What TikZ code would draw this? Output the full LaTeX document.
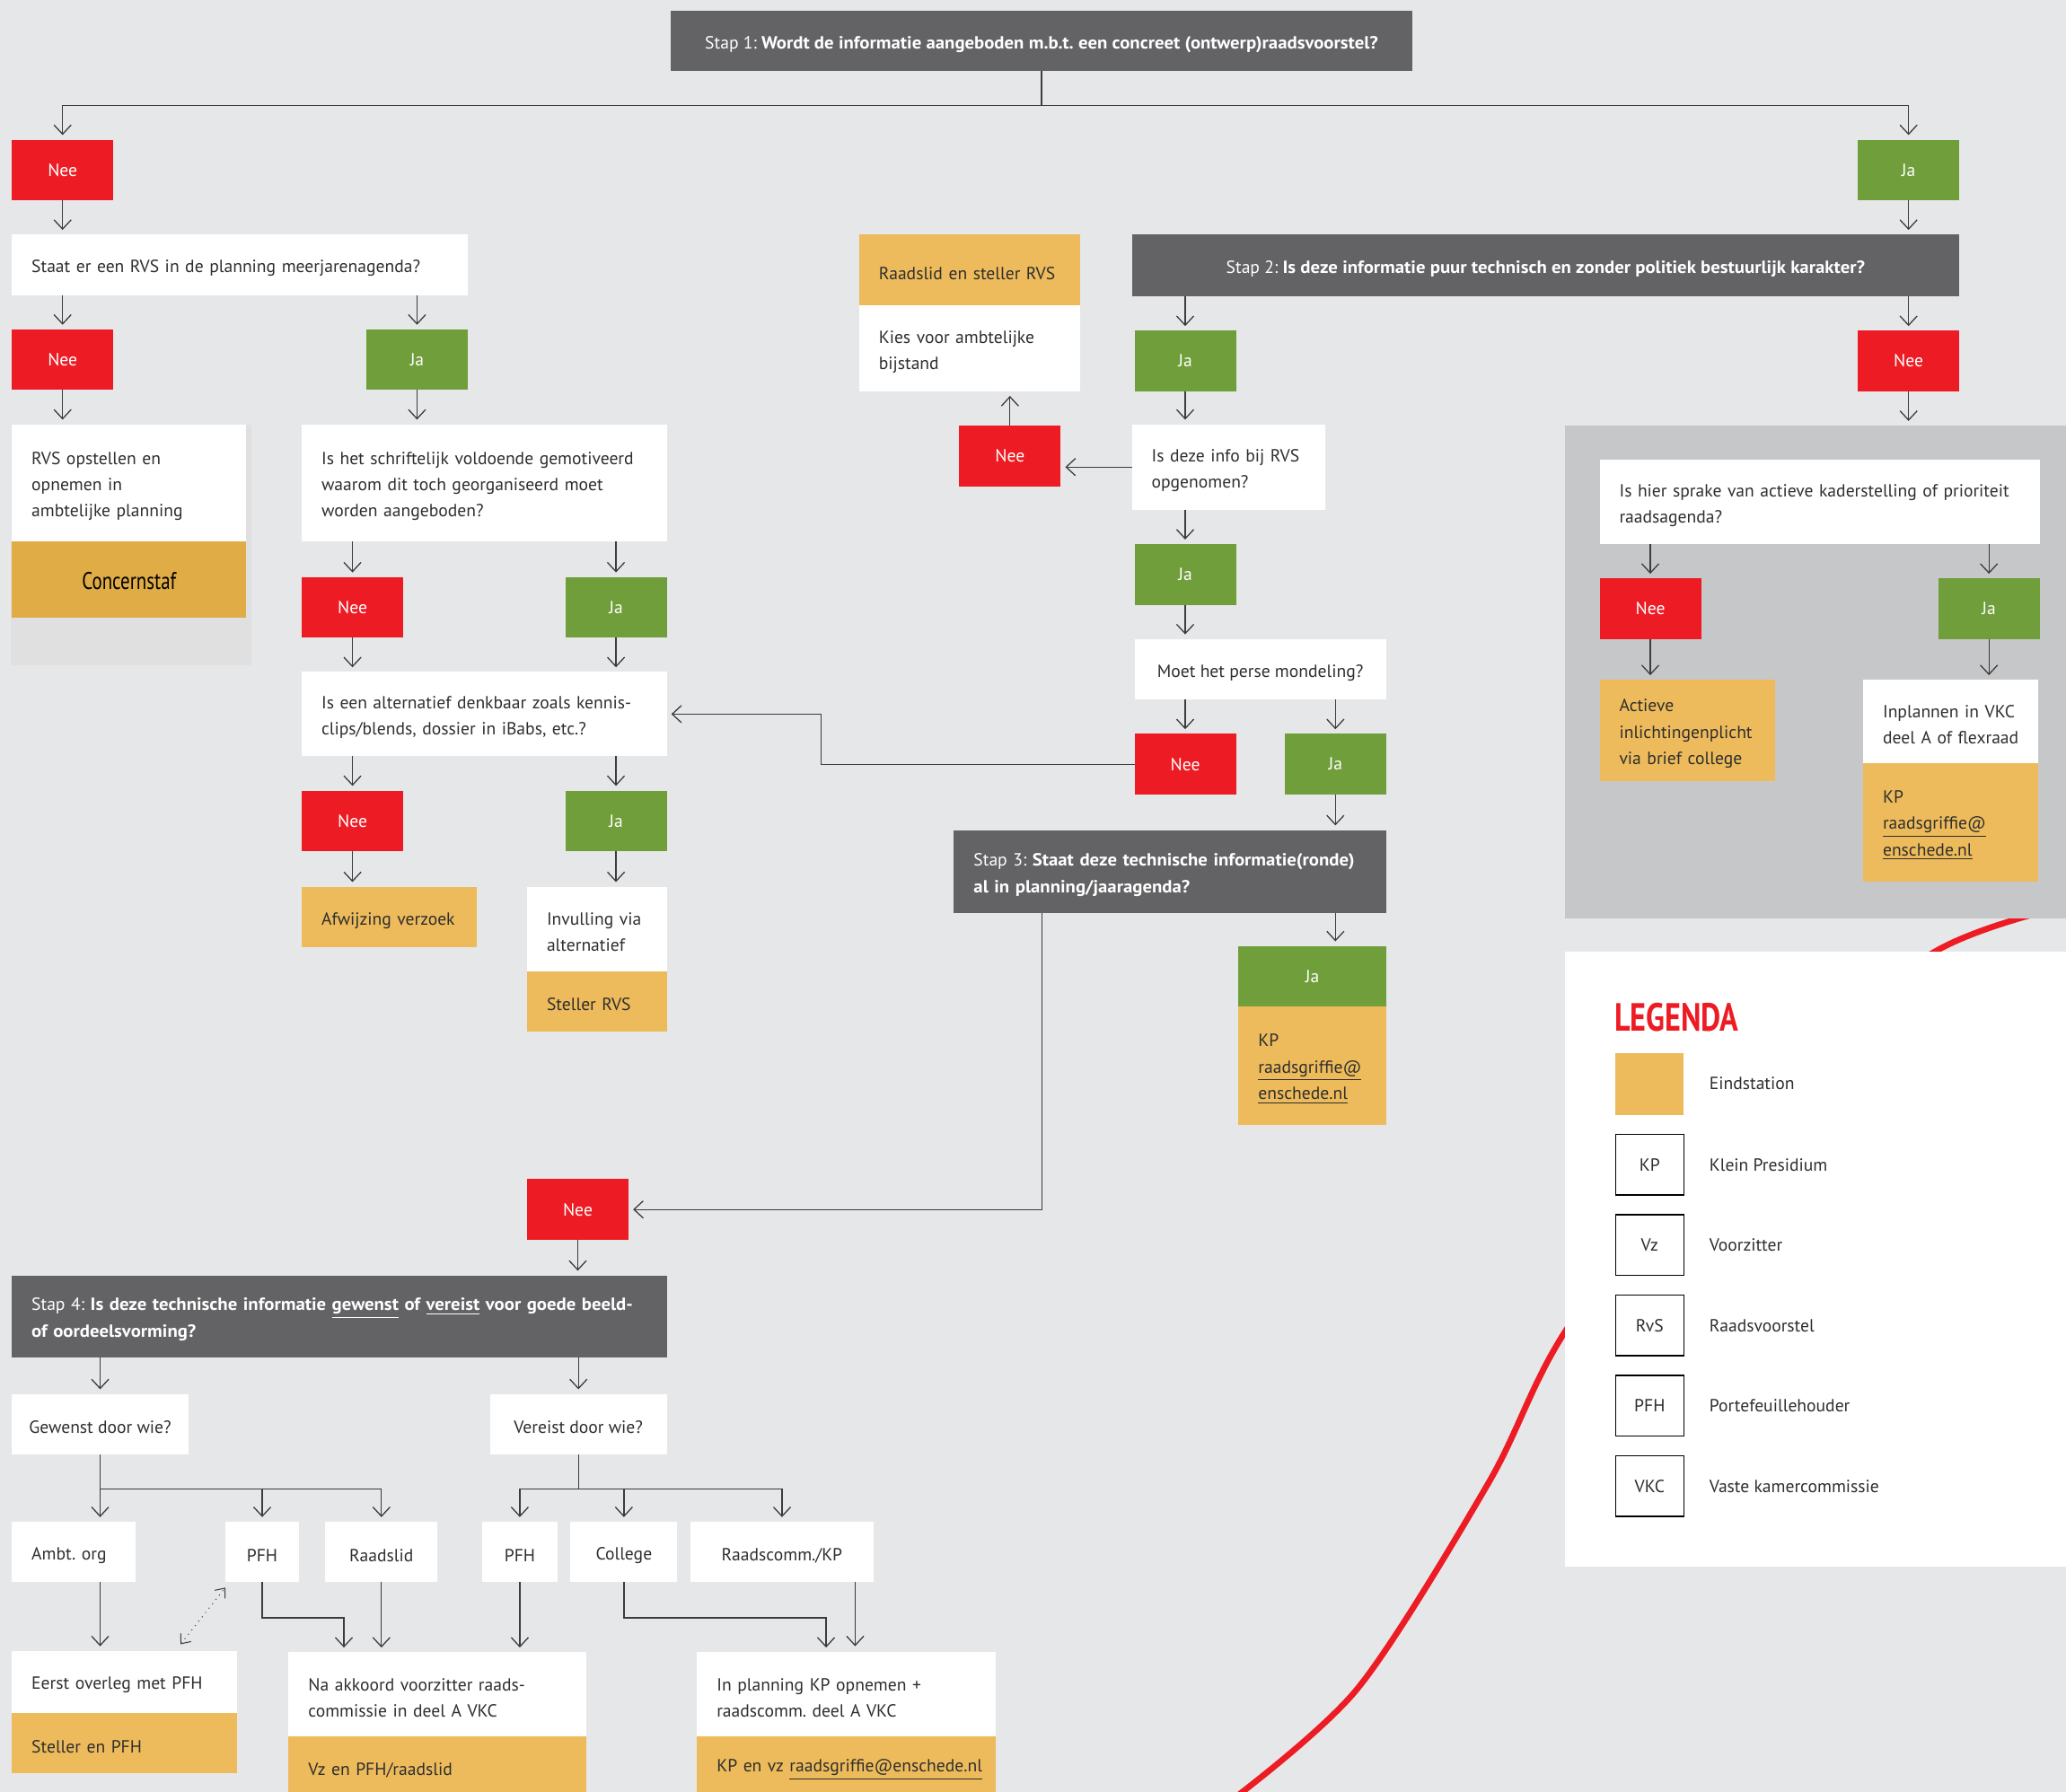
\documentclass[tikz,border=0pt]{standalone}
\usepackage{fontspec}
\setmainfont{PT Sans}[BoldFeatures={FakeStretch=1.06}]
\newfontfamily\legfont{PT Sans}[FakeStretch=0.78]
\usepackage{xcolor}
\usepackage{tikz}
\usetikzlibrary{arrows.meta,positioning}

\definecolor{achtergrond}{HTML}{E6E7E9}
\definecolor{stapgrijs}{HTML}{636365}
\definecolor{rood}{HTML}{ED1C24}
\definecolor{groen}{HTML}{6F9E3B}
\definecolor{eindgeel}{HTML}{EDBB5B}
\definecolor{concern}{HTML}{DFAC45}
\definecolor{paneelgrijs}{HTML}{C6C7C9}
\definecolor{linksgrijs}{HTML}{E0E0E0}
\definecolor{inkt}{HTML}{2E2E2E}
\definecolor{lijnkleur}{HTML}{3C3C3C}

\newcommand\tekst{\fontsize{7.6}{11.4}\selectfont\frenchspacing\hyphenpenalty=10000}
\newcommand\groot{\legfont\fontsize{10.4}{12}\selectfont}

\tikzset{
	blok/.style={inner sep=0pt, outer sep=0pt, anchor=north west, font=\tekst, text=inkt},
	laag/.style={execute at begin node={\rule{0pt}{8.3pt}}},
	nee/.style={blok, fill=rood, text=white, align=center},
	ja/.style={blok, fill=groen, text=white, align=center},
	vraag/.style={blok, laag, fill=white, align=left, inner xsep=0.3cm},
	eind/.style={blok, laag, fill=eindgeel, align=left, inner xsep=0.3cm},
	stap/.style={blok, laag, fill=stapgrijs, text=white, align=left, inner xsep=0.3cm},
	kort/.style={inner xsep=0.15cm, align=center},
	legtekst/.style={anchor=west, inner sep=0pt, font=\tekst, text=inkt},
	maat/.code 2 args={\pgfmathsetlengthmacro\maatb{#1*0.02cm}\pgfmathsetlengthmacro\maath{#2*0.02cm}\tikzset{minimum width=\maatb, minimum height=\maath}},
	tmaat/.code 2 args={\pgfmathsetlengthmacro\maatb{#1*0.02cm}\pgfmathsetlengthmacro\maath{#2*0.02cm}\pgfmathsetlengthmacro\maatt{(#1-30)*0.02cm}\tikzset{minimum width=\maatb, minimum height=\maath, text width=\maatt}},
	pijl/.style={draw=lijnkleur, line width=0.5pt, -{Straight Barb[length=1.4mm,width=2.6mm]}, shorten >=2pt},
	stip/.style={draw=lijnkleur, line width=0.4pt, dotted, {Straight Barb[length=1.2mm,width=2mm]}-{Straight Barb[length=1.2mm,width=2mm]}}
}

\begin{document}
\begin{tikzpicture}[x=0.02cm, y=-0.02cm]
	\useasboundingbox (0,0) rectangle (1568,1360);
	\clip (0,0) rectangle (1568,1360);
	\fill[achtergrond] (0,0) rectangle (1568,1360);

	% rode boog achter de panelen
	\draw[rood, line width=2.6pt] plot[smooth] coordinates {(930,1370) (1030,1282) (1130,1125) (1187,1012) (1313,837) (1469,722) (1575,686)};

	\node[stap, maat={563}{46}, align=center] (stap1) at (509,8) {Stap 1: \textbf{Wordt de informatie aangeboden m.b.t. een concreet (ontwerp)raadsvoorstel?}};
	\node[nee, maat={77}{46}] (nee1) at (9,106) {Nee};
	\node[ja, maat={77}{46}] (ja1) at (1410,106) {Ja};

	% linker tak
	\node[vraag, tmaat={346}{46}] (staat) at (9,178) {Staat er een RVS in de planning meerjarenagenda?};
	\node[nee, maat={77}{46}] (nee2) at (9,250) {Nee};
	\node[ja, maat={77}{46}] (ja2) at (278,250) {Ja};
	\node[blok, fill=linksgrijs, maat={183}{183}] (linkspaneel) at (8,322) {};
	\node[vraag, tmaat={178}{89}] (rvs) at (9,322) {RVS opstellen en\\opnemen in\\ambtelijke planning};
	\node[eind, fill=concern, maat={178}{58}, align=center, font=\groot, text=black, below right=0pt of rvs.south west] (concernstaf) {Concernstaf};
	\node[vraag, tmaat={277}{89}] (schriftelijk) at (229,322) {Is het schriftelijk voldoende gemotiveerd\\waarom dit toch georganiseerd moet\\worden aangeboden?};
	\node[nee, maat={77}{46}] (nee3) at (229,438) {Nee};
	\node[ja, maat={77}{46}] (ja3) at (429,438) {Ja};
	\node[vraag, tmaat={277}{64}] (alternatief) at (229,510) {Is een alternatief denkbaar zoals kennis-\\clips/blends, dossier in iBabs, etc.?};
	\node[nee, maat={77}{46}] (nee4) at (229,600) {Nee};
	\node[ja, maat={77}{46}] (ja4) at (429,600) {Ja};
	\node[eind, tmaat={133}{46}] (afwijzing) at (229,673) {\mbox{Afwijzing verzoek}};
	\node[vraag, tmaat={106}{64}] (invulling) at (400,673) {Invulling via\\alternatief};
	\node[eind, tmaat={106}{46}, below right=0pt of invulling.south west] (stellerrvs) {Steller RVS};

	% midden
	\node[eind, tmaat={168}{54}] (raadslid) at (652,178) {\mbox{Raadslid en steller RVS}};
	\node[vraag, tmaat={168}{65}, below right=0pt of raadslid.south west] (kies) {Kies voor ambtelijke\\bijstand};
	\node[nee, maat={77}{46}] (nee5) at (728,323) {Nee};
	\node[stap, maat={628}{47}, align=center] (stap2) at (859,178) {Stap 2: \textbf{Is deze informatie puur technisch en zonder politiek bestuurlijk karakter?}};
	\node[ja, maat={77}{46}] (ja6) at (861,251) {Ja};
	\node[nee, maat={77}{46}] (nee6) at (1410,251) {Nee};
	\node[vraag, tmaat={147}{65}] (infobij) at (859,322) {Is deze info bij RVS\\opgenomen?};
	\node[ja, maat={77}{46}] (ja7) at (861,413) {Ja};
	\node[vraag, kort, maat={191}{46}] (moet) at (861,485) {Moet het perse mondeling?};
	\node[nee, maat={77}{46}] (nee7) at (861,557) {Nee};
	\node[ja, maat={77}{46}] (ja8) at (975,557) {Ja};
	\node[stap, tmaat={328}{63}] (stap3) at (724,630) {Stap 3: \textbf{Staat deze technische informatie(ronde)}\\\textbf{al in planning/jaaragenda?}};
	\node[ja, maat={112}{46}] (ja9) at (940,718) {Ja};
	\node[eind, tmaat={112}{90}, below right=0pt of ja9.south west] (kp1) {KP\\\underline{raadsgriffie@}\\\underline{enschede.nl}};

	% rechter paneel
	\node[blok, fill=paneelgrijs, maat={390}{374}] (paneel) at (1188,323) {};
	\node[vraag, tmaat={334}{64}] (ishier) at (1214,349) {\mbox{Is hier sprake van actieve kaderstelling of prioriteit}\\raadsagenda?};
	\node[nee, maat={77}{46}] (nee10) at (1214,439) {Nee};
	\node[ja, maat={77}{46}] (ja10) at (1471,439) {Ja};
	\node[eind, tmaat={133}{77}] (actieve) at (1214,516) {Actieve\\\mbox{inlichtingenplicht}\\via brief college};
	\node[vraag, tmaat={133}{63}] (inplannen) at (1414,516) {\mbox{Inplannen in VKC}\\\mbox{deel A of flexraad}};
	\node[eind, tmaat={133}{90}, below right=0pt of inplannen.south west] (kp2) {KP\\\underline{raadsgriffie@}\\\underline{enschede.nl}};

	% stap 4
	\node[nee, maat={77}{46}] (nee8) at (400,895) {Nee};
	\node[stap, tmaat={497}{62}] (stap4) at (9,968) {Stap 4: \textbf{\mbox{Is deze technische informatie \underline{gewenst} of \underline{vereist} voor goede beeld-}}\\\textbf{of oordeelsvorming?}};
	\node[vraag, kort, maat={134}{46}] (gewenst) at (9,1058) {Gewenst door wie?};
	\node[vraag, kort, maat={134}{46}] (vereist) at (372,1058) {Vereist door wie?};
	\node[vraag, tmaat={94}{46}] (ambt) at (9,1155) {Ambt. org};
	\node[vraag, kort, maat={56}{46}] (pfh1) at (171,1155) {PFH};
	\node[vraag, kort, maat={85}{46}] (raadslid2) at (247,1155) {Raadslid};
	\node[vraag, kort, maat={57}{46}] (pfh2) at (366,1155) {PFH};
	\node[vraag, kort, maat={81}{46}] (college) at (433,1155) {College};
	\node[vraag, kort, maat={139}{46}] (raadscomm) at (524,1155) {Raadscomm./KP};
	\node[vraag, tmaat={171}{47}] (eerst) at (9,1253) {Eerst overleg met PFH};
	\node[eind, tmaat={171}{46}, below right=0pt of eerst.south west] (stellerpfh) {Steller en PFH};
	\node[vraag, tmaat={226}{64}] (nakkoord) at (219,1254) {Na akkoord voorzitter raads-\\commissie in deel A VKC};
	\node[eind, tmaat={226}{46}, below right=0pt of nakkoord.south west] (vzpfh) {Vz en PFH/raadslid};
	\node[vraag, tmaat={227}{64}] (planning) at (529,1254) {In planning KP opnemen +\\raadscomm. deel A VKC};
	\node[eind, tmaat={227}{46}, below right=0pt of planning.south west] (kpvz) {\mbox{KP en vz \underline{raadsgriffie@enschede.nl}}};

	% legenda
	\node[blok, fill=white, maat={390}{467}] (legenda) at (1188,722) {};
	\node[anchor=west, inner sep=0pt, font=\legfont\bfseries\fontsize{17}{17}\selectfont, text=rood] (legtitel) at (1225,772) {LEGENDA};
	\node[blok, fill=eindgeel, maat={52}{47}] (leg0) at (1226,799) {};
	\node[legtekst, right=0.38cm of leg0] {Eindstation};
	\node[blok, draw=black, line width=0.5pt, maat={52}{46}, align=center] (leg1) at (1226,861) {KP};
	\node[legtekst, right=0.38cm of leg1] {Klein Presidium};
	\node[blok, draw=black, line width=0.5pt, maat={52}{46}, align=center] (leg2) at (1226,922) {Vz};
	\node[legtekst, right=0.38cm of leg2] {Voorzitter};
	\node[blok, draw=black, line width=0.5pt, maat={52}{46}, align=center] (leg3) at (1226,983) {RvS};
	\node[legtekst, right=0.38cm of leg3] {Raadsvoorstel};
	\node[blok, draw=black, line width=0.5pt, maat={52}{46}, align=center] (leg4) at (1226,1044) {PFH};
	\node[legtekst, right=0.38cm of leg4] {Portefeuillehouder};
	\node[blok, draw=black, line width=0.5pt, maat={52}{46}, align=center] (leg5) at (1226,1105) {VKC};
	\node[legtekst, right=0.38cm of leg5] {Vaste kamercommissie};

	% verbindingen
	\draw[pijl] (stap1.south) -- ++(0,26) -| (nee1.north);
	\draw[pijl] (stap1.south) -- ++(0,26) -| (ja1.north);
	\draw[pijl] (nee1.south) -- (nee1.south |- staat.north);
	\draw[pijl] (staat.south -| nee2) -- (nee2.north);
	\draw[pijl] (staat.south -| ja2) -- (ja2.north);
	\draw[pijl] (nee2.south) -- (nee2.south |- rvs.north);
	\draw[pijl] (ja2.south) -- (ja2.south |- schriftelijk.north);
	\draw[pijl] (schriftelijk.south -| nee3) -- (nee3.north);
	\draw[pijl] (schriftelijk.south -| ja3) -- (ja3.north);
	\draw[pijl] (nee3.south) -- (nee3.south |- alternatief.north);
	\draw[pijl] (ja3.south) -- (ja3.south |- alternatief.north);
	\draw[pijl] (alternatief.south -| nee4) -- (nee4.north);
	\draw[pijl] (alternatief.south -| ja4) -- (ja4.north);
	\draw[pijl] (nee4.south) -- (nee4.south |- afwijzing.north);
	\draw[pijl] (ja4.south) -- (ja4.south |- invulling.north);

	\draw[pijl] (ja1.south) -- (ja1.south |- stap2.north);
	\draw[pijl] (stap2.south -| ja6) -- (ja6.north);
	\draw[pijl] (stap2.south -| nee6) -- (nee6.north);
	\draw[pijl] (nee6.south) -- (nee6.south |- paneel.north);
	\draw[pijl] (ja6.south) -- (ja6.south |- infobij.north);
	\draw[pijl] (infobij.west) -- (infobij.west -| nee5.east);
	\draw[pijl] (nee5.north) -- (nee5.north |- kies.south);
	\draw[pijl] (infobij.south -| ja7) -- (ja7.north);
	\draw[pijl] (ja7.south) -- (ja7.south |- moet.north);
	\draw[pijl] (moet.south -| nee7) -- (nee7.north);
	\draw[pijl] (moet.south -| ja8) -- (ja8.north);
	\draw[pijl] (nee7.west) -- ++(-238,0) |- (alternatief.east);
	\draw[pijl] (ja8.south) -- (ja8.south |- stap3.north);
	\draw[pijl] (stap3.south -| ja8) -- (ja9.north -| ja8);
	\draw[pijl] (stap3.south west) ++(67,0) |- (nee8.east);

	\draw[pijl] (ishier.south -| nee10) -- (nee10.north);
	\draw[pijl] (ishier.south -| ja10) -- (ja10.north);
	\draw[pijl] (nee10.south) -- (nee10.south |- actieve.north);
	\draw[pijl] (ja10.south) -- (ja10.south |- inplannen.north);

	\draw[pijl] (nee8.south) -- (nee8.south |- stap4.north);
	\draw[pijl] (stap4.south -| gewenst) -- (gewenst.north);
	\draw[pijl] (stap4.south -| vereist) -- (vereist.north);
	\draw[pijl] (gewenst.south) -- (gewenst.south |- ambt.north);
	\draw[pijl] (gewenst.south) ++(0,26) -| (pfh1.north);
	\draw[pijl] (gewenst.south) ++(0,26) -| (raadslid2.north);
	\draw[pijl] (vereist.south) -- ++(0,26) -| (pfh2.north);
	\draw[pijl] (vereist.south) ++(0,26) -| (college.north);
	\draw[pijl] (vereist.south) ++(0,26) -| (raadscomm.north);
	\draw[pijl] (ambt.south -| gewenst) -- (eerst.north -| gewenst);
	\draw[pijl] (pfh1.south) -- ++(0,27) -| ([xshift=0.84cm]nakkoord.north west);
	\draw[pijl] (raadslid2.south) -- (raadslid2.south |- nakkoord.north);
	\draw[pijl] (pfh2.south) -- (pfh2.south |- nakkoord.north);
	\draw[pijl] (college.south) -- ++(0,27) -| ([xshift=1.96cm]planning.north west);
	\draw[pijl] ([xshift=-0.28cm]raadscomm.south east) -- ++(0,52);
	\draw[stip] ([xshift=-0.86cm,yshift=0.1cm]eerst.north east) -- ([yshift=-0.08cm]pfh1.south west);
\end{tikzpicture}
\end{document}
